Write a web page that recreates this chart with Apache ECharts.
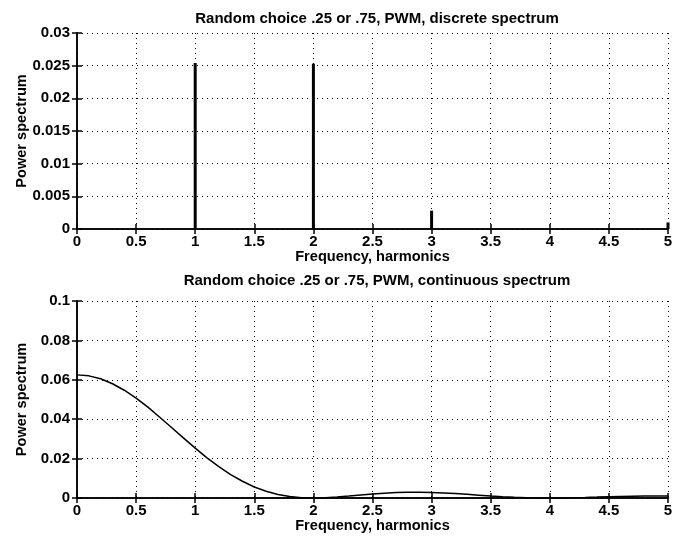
<!DOCTYPE html>
<html>
<head>
<meta charset="utf-8">
<script src="https://cdn.jsdelivr.net/npm/echarts@6/dist/echarts.min.js"></script>
<style>
html,body{margin:0;padding:0;background:#fff;}
#chart{width:685px;height:542px;}
</style>
</head>
<body>
<div id="chart"></div>
<script>
// Discrete spectrum (harmonics)
var harmonics = [1, 2, 3, 4, 5];
var discretePower = [0.0254, 0.0253, 0.0028, 0, 0.001];

// Continuous spectrum
var freq = [0, 0.1, 0.2, 0.3, 0.4, 0.5, 0.6, 0.7, 0.8, 0.9, 1.0, 1.1, 1.2, 1.3, 1.4, 1.5, 1.6, 1.7, 1.8, 1.9,
            2.0, 2.1, 2.2, 2.3, 2.4, 2.5, 2.6, 2.7, 2.8, 2.9, 3.0, 3.1, 3.2, 3.3, 3.4, 3.5, 3.6, 3.7, 3.8, 3.9,
            4.0, 4.1, 4.2, 4.3, 4.4, 4.5, 4.6, 4.7, 4.8, 4.9, 5.0];
var contPower = [0.0625, 0.0620, 0.0605, 0.0580, 0.0547, 0.0507, 0.0461, 0.0410, 0.0358, 0.0305,
                 0.0253, 0.0204, 0.0159, 0.0119, 0.0085, 0.0056, 0.0034, 0.0018, 0.00075, 0.00017,
                 0, 0.00014, 0.0005, 0.00099, 0.00152, 0.00203, 0.00245, 0.00276, 0.00292, 0.00294,
                 0.00282, 0.00257, 0.00224, 0.00185, 0.00143, 0.00103, 0.00068, 0.00038, 0.00017, 0.00004,
                 0, 0.00004, 0.00014, 0.00028, 0.00045, 0.00063, 0.00078, 0.00091, 0.00099, 0.00103, 0.00101];

var titles = ['Random choice .25 or .75, PWM, discrete spectrum', 'Random choice .25 or .75, PWM, continuous spectrum'];
var xName = 'Frequency, harmonics';
var yName = 'Power spectrum';

var FONT = '"Liberation Sans", Arial, Helvetica, sans-serif';

function pairs(xs, ys) { return xs.map(function (x, i) { return [x, ys[i]]; }); }

function xAxisMain(gi) {
  return {
    type: 'value', gridIndex: gi, min: 0, max: 5, interval: 0.5,
    name: xName, nameLocation: 'middle', nameGap: 20, nameMoveOverlap: false,
    nameTextStyle: { fontFamily: FONT, fontSize: 14.6, fontWeight: 'bold', color: '#000' },
    axisLine: { show: true, onZero: false, lineStyle: { color: '#000', width: 1.5 } },
    axisTick: { show: true, inside: true, length: 5, lineStyle: { color: '#000', width: 1.5 } },
    axisLabel: { fontFamily: FONT, fontSize: 15, fontWeight: 'bold', color: '#000', margin: 5 },
    splitLine: { show: true, lineStyle: { color: '#000', type: [1, 4], width: 1 } }
  };
}
function xAxisTop(gi) {
  return {
    type: 'value', gridIndex: gi, min: 0, max: 5, interval: 0.5, position: 'top',
    axisLine: { show: true, lineStyle: { color: '#000', width: 1.5 } },
    axisTick: { show: true, inside: true, length: 5, lineStyle: { color: '#000', width: 1.5 } },
    axisLabel: { show: false }, splitLine: { show: false }
  };
}
function yAxisMain(gi, max, interval) {
  return {
    type: 'value', gridIndex: gi, min: 0, max: max, interval: interval,
    name: yName, nameLocation: 'middle', nameGap: 48, nameMoveOverlap: false,
    nameTextStyle: { fontFamily: FONT, fontSize: 14.6, fontWeight: 'bold', color: '#000' },
    axisLine: { show: true, lineStyle: { color: '#000', width: 1.5 } },
    axisTick: { show: true, inside: true, length: 5, lineStyle: { color: '#000', width: 1.5 } },
    axisLabel: { fontFamily: FONT, fontSize: 15, fontWeight: 'bold', color: '#000', margin: 7 },
    splitLine: { show: true, lineStyle: { color: '#000', type: [1, 4], width: 1 } }
  };
}
function yAxisRight(gi, max, interval) {
  return {
    type: 'value', gridIndex: gi, min: 0, max: max, interval: interval, position: 'right',
    axisLine: { show: true, lineStyle: { color: '#000', width: 1.5 } },
    axisTick: { show: true, inside: true, length: 5, lineStyle: { color: '#000', width: 1.5 } },
    axisLabel: { show: false }, splitLine: { show: false }
  };
}

var chart = echarts.init(document.getElementById('chart'), null, { renderer: 'canvas' });
chart.setOption({
  backgroundColor: '#fff',
  animation: false,
  title: [
    { text: titles[0], left: 372, textAlign: 'center', top: 6,
      textStyle: { fontFamily: FONT, fontSize: 15, fontWeight: 'bold', color: '#000' } },
    { text: titles[1], left: 372, textAlign: 'center', top: 268,
      textStyle: { fontFamily: FONT, fontSize: 15, fontWeight: 'bold', color: '#000' } }
  ],
  grid: [
    { left: 77, right: 17, top: 33, height: 196 },
    { left: 77, right: 17, top: 301, height: 197 }
  ],
  xAxis: [xAxisMain(0), xAxisTop(0), xAxisMain(1), xAxisTop(1)],
  yAxis: [yAxisMain(0, 0.03, 0.005), yAxisRight(0, 0.03, 0.005), yAxisMain(1, 0.1, 0.02), yAxisRight(1, 0.1, 0.02)],
  series: [
    { type: 'bar', xAxisIndex: 0, yAxisIndex: 0, barWidth: 3, itemStyle: { color: '#000' },
      data: pairs(harmonics, discretePower) },
    { type: 'line', xAxisIndex: 2, yAxisIndex: 2, showSymbol: false, symbol: 'none', smooth: false,
      lineStyle: { color: '#000', width: 1.5 }, data: pairs(freq, contPower) }
  ]
});
</script>
</body>
</html>
